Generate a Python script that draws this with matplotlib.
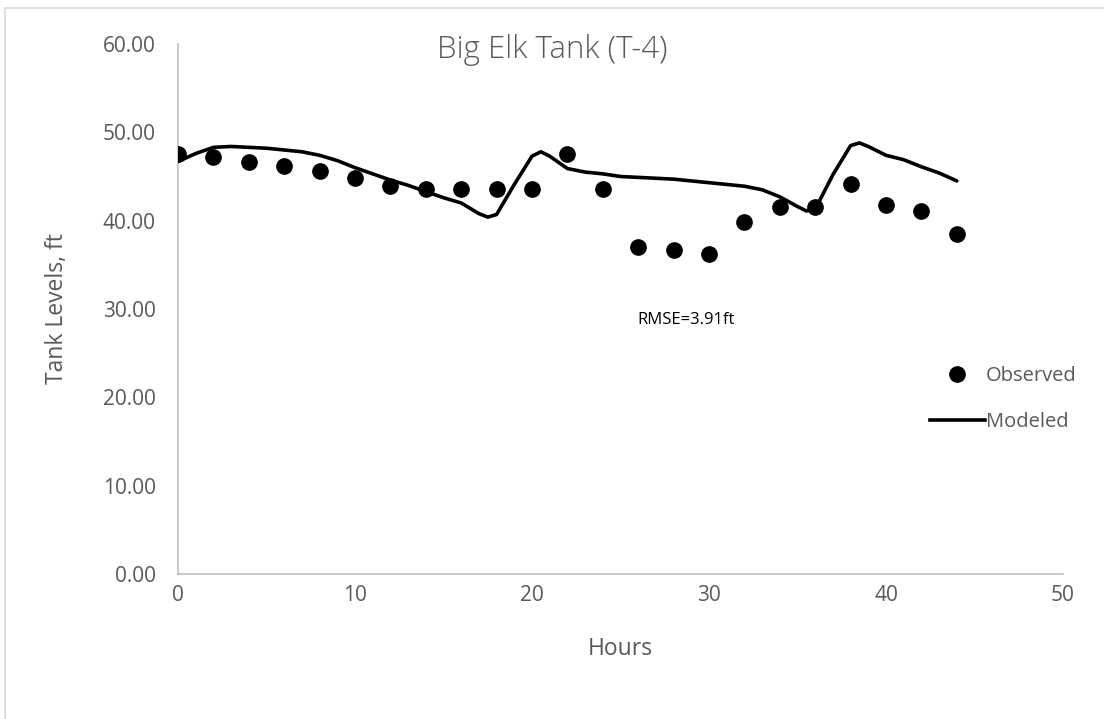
# Big Elk Tank (T-4) - observed vs modeled tank levels
import matplotlib
matplotlib.use("Agg")
import matplotlib.pyplot as plt
from matplotlib.patches import Rectangle
from matplotlib.lines import Line2D

obs_hours = [0, 2, 4, 6, 8, 10, 12, 14, 16, 18, 20, 22, 24, 26, 28, 30, 32, 34, 36, 38, 40, 42, 44]
observed = [47.5, 47.2, 46.6, 46.2, 45.6, 44.8, 43.9, 43.6, 43.6, 43.6, 43.6, 47.5, 43.6, 37.0,
            36.7, 36.2, 39.9, 41.6, 41.6, 44.2, 41.8, 41.1, 38.5]

# modeled curve (hourly, plus the turning points)
mod_hours = [0, 1, 2, 3, 4, 5, 6, 7, 8, 9, 10, 11, 12, 13, 14, 15, 16, 17, 17.5, 18, 19, 20, 20.5,
             21, 22, 23, 24, 25, 26, 27, 28, 29, 30, 31, 32, 33, 34, 35, 35.5, 36, 37, 38, 38.5,
             39, 40, 41, 42, 43, 44]
modeled = [46.7, 47.6, 48.3, 48.4, 48.3, 48.2, 48.0, 47.8, 47.4, 46.8, 46.0, 45.3, 44.6, 44.0, 43.3,
           42.6, 42.0, 40.8, 40.4, 40.7, 44.1, 47.3, 47.8, 47.3, 45.9, 45.5, 45.3, 45.0, 44.9, 44.8,
           44.7, 44.5, 44.3, 44.1, 43.9, 43.5, 42.7, 41.6, 41.1, 41.3, 45.2, 48.5, 48.8, 48.4, 47.4,
           46.9, 46.1, 45.4, 44.5]

y_ticks = [0, 10, 20, 30, 40, 50, 60]
x_ticks = [0, 10, 20, 30, 40, 50]

gray = "#595959"
plt.rcParams["font.family"] = ["Open Sans", "DejaVu Sans"]

fig = plt.figure(figsize=(11.04, 7.19), dpi=100)
# outer chart border (only top/left visible in the reference)
fig.patches.append(Rectangle((5 / 1104, -0.1), 1.2, 1 - 8 / 719 + 0.1, transform=fig.transFigure,
                             fill=False, edgecolor="#d9d9d9", linewidth=1.2))

ax = fig.add_axes([178 / 1104, 1 - 574 / 719, (1063 - 178) / 1104, (574 - 44) / 719])
ax.plot(mod_hours, modeled, color="black", linewidth=2.6, solid_joinstyle="round",
        solid_capstyle="round", zorder=3)
ax.plot(obs_hours, observed, linestyle="none", marker="o", markersize=11, color="black", zorder=4)

ax.set_xlim(0, 50)
ax.set_ylim(0, 60)
ax.set_xticks(x_ticks)
ax.set_yticks(y_ticks)
ax.set_yticklabels(["%.2f" % v for v in y_ticks])
ax.tick_params(length=0, labelsize=15, colors=gray)
ax.tick_params(axis="y", pad=16)
ax.tick_params(axis="x", pad=8)
for s in ["top", "right"]:
    ax.spines[s].set_visible(False)
for s in ["left", "bottom"]:
    ax.spines[s].set_color("#bfbfbf")
    ax.spines[s].set_linewidth(1.2)

ax.set_xlabel("Hours", fontsize=16.5, color=gray, labelpad=22)
ax.set_ylabel("Tank Levels, ft", fontsize=16.5, color=gray, labelpad=24)
fig.text(552 / 1104, 1 - 50 / 719, "Big Elk Tank (T-4)", ha="center", va="center",
         fontsize=22.5, color=gray, fontweight="light")
ax.text(28.7, 28.8, "RMSE=3.91ft", ha="center", va="center", fontsize=12, color="black")

handles = [Line2D([], [], linestyle="none", marker="o", markersize=11, color="black"),
           Line2D([], [], color="black", linewidth=2.6)]
fig.legend(handles, ["Observed", "Modeled"], loc="center left",
           bbox_to_anchor=(912 / 1104, 1 - 399 / 719), frameon=False, fontsize=14.5,
           labelcolor=gray, handlelength=2.7, handletextpad=0.05, labelspacing=1.25)

fig.savefig("out.png", dpi=100)
